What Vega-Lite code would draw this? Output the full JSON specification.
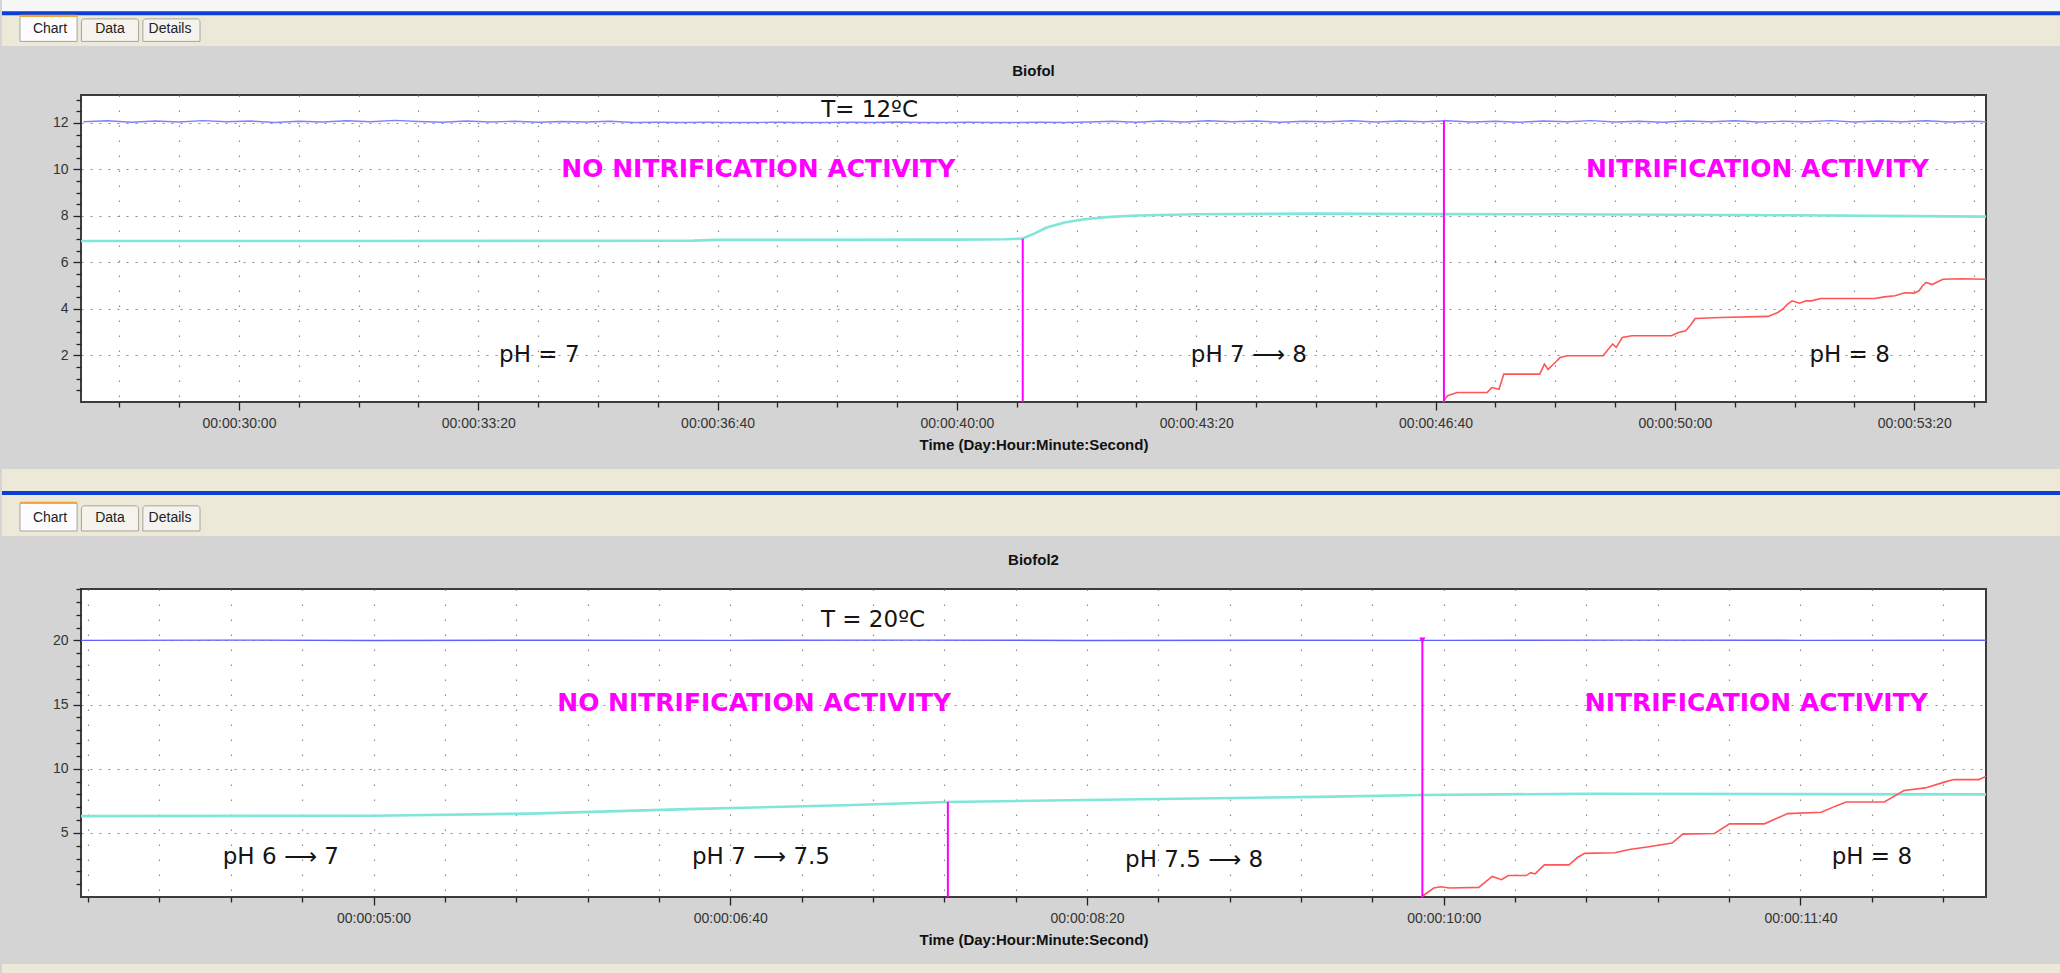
{
  "$schema": "https://vega.github.io/schema/vega-lite/v6.json",
  "background": "#d4d4d4",
  "padding": 0,
  "autosize": {"type": "pad"},
  "config": {
    "font": "Liberation Sans",
    "view": {"stroke": null},
    "axis": {"domain": false, "labelFont": "Liberation Sans", "labelFontSize": 14, "labelColor": "#333333", "tickColor": "#222222", "tickWidth": 1.3, "titleFont": "Liberation Sans", "titleFontSize": 15, "titleFontWeight": "bold", "titleColor": "#111111", "gridColor": "#8c8c8c", "gridWidth": 1.2},
    "title": {"font": "Liberation Sans", "fontSize": 15, "fontWeight": "bold", "color": "#111111", "offset": 14, "frame": "group"}
  },
  "datasets": {
    "tabs": [{"tab": "Chart"}, {"tab": "Data"}, {"tab": "Details"}],
    "temp1": [
      {"t": 1670, "v": 12.05}, {"t": 1690, "v": 12.09}, {"t": 1710, "v": 12.03}, {"t": 1730, "v": 12.08}, {"t": 1750, "v": 12.04}, {"t": 1770, "v": 12.10}, {"t": 1790, "v": 12.05}, {"t": 1810, "v": 12.08}, {"t": 1830, "v": 12.02}, {"t": 1850, "v": 12.07},
      {"t": 1870, "v": 12.04}, {"t": 1890, "v": 12.09}, {"t": 1910, "v": 12.05}, {"t": 1930, "v": 12.11}, {"t": 1950, "v": 12.06}, {"t": 1970, "v": 12.03}, {"t": 1990, "v": 12.08}, {"t": 2010, "v": 12.04}, {"t": 2030, "v": 12.07}, {"t": 2050, "v": 12.03},
      {"t": 2070, "v": 12.06}, {"t": 2090, "v": 12.04}, {"t": 2110, "v": 12.07}, {"t": 2130, "v": 12.02}, {"t": 2150, "v": 12.03}, {"t": 2170, "v": 12.02}, {"t": 2190, "v": 12.03}, {"t": 2210, "v": 12.02}, {"t": 2230, "v": 12.02}, {"t": 2250, "v": 12.03},
      {"t": 2270, "v": 12.02}, {"t": 2290, "v": 12.02}, {"t": 2310, "v": 12.03}, {"t": 2330, "v": 12.02}, {"t": 2350, "v": 12.04}, {"t": 2370, "v": 12.02}, {"t": 2390, "v": 12.02}, {"t": 2410, "v": 12.03}, {"t": 2430, "v": 12.02}, {"t": 2450, "v": 12.02},
      {"t": 2470, "v": 12.03}, {"t": 2490, "v": 12.02}, {"t": 2510, "v": 12.04}, {"t": 2530, "v": 12.07}, {"t": 2550, "v": 12.03}, {"t": 2570, "v": 12.08}, {"t": 2590, "v": 12.04}, {"t": 2610, "v": 12.09}, {"t": 2630, "v": 12.05}, {"t": 2650, "v": 12.08},
      {"t": 2670, "v": 12.03}, {"t": 2690, "v": 12.07}, {"t": 2710, "v": 12.05}, {"t": 2730, "v": 12.09}, {"t": 2750, "v": 12.04}, {"t": 2770, "v": 12.08}, {"t": 2790, "v": 12.05}, {"t": 2810, "v": 12.09}, {"t": 2830, "v": 12.04}, {"t": 2850, "v": 12.07},
      {"t": 2870, "v": 12.03}, {"t": 2890, "v": 12.08}, {"t": 2910, "v": 12.05}, {"t": 2930, "v": 12.10}, {"t": 2950, "v": 12.04}, {"t": 2970, "v": 12.07}, {"t": 2990, "v": 12.03}, {"t": 3010, "v": 12.08}, {"t": 3030, "v": 12.05}, {"t": 3050, "v": 12.09},
      {"t": 3070, "v": 12.04}, {"t": 3090, "v": 12.07}, {"t": 3110, "v": 12.05}, {"t": 3130, "v": 12.10}, {"t": 3150, "v": 12.04}, {"t": 3170, "v": 12.08}, {"t": 3190, "v": 12.05}, {"t": 3210, "v": 12.09}, {"t": 3230, "v": 12.04}, {"t": 3250, "v": 12.07}, {"t": 3260, "v": 12.05}
    ],
    "ph1": [
      {"t": 1668, "v": 6.92}, {"t": 1900, "v": 6.92}, {"t": 2180, "v": 6.94}, {"t": 2200, "v": 6.97}, {"t": 2400, "v": 6.98}, {"t": 2440, "v": 7.0}, {"t": 2455, "v": 7.03}, {"t": 2465, "v": 7.25}, {"t": 2475, "v": 7.5}, {"t": 2490, "v": 7.72},
      {"t": 2505, "v": 7.85}, {"t": 2525, "v": 7.95}, {"t": 2550, "v": 8.02}, {"t": 2600, "v": 8.07}, {"t": 2700, "v": 8.1}, {"t": 2800, "v": 8.08}, {"t": 2900, "v": 8.07}, {"t": 3000, "v": 8.05}, {"t": 3100, "v": 8.03}, {"t": 3200, "v": 7.99}, {"t": 3260, "v": 7.97}
    ],
    "nit1": [
      {"t": 2806, "v": 0}, {"t": 2810, "v": 0.27}, {"t": 2818, "v": 0.41}, {"t": 2843, "v": 0.41}, {"t": 2847, "v": 0.62}, {"t": 2853, "v": 0.55}, {"t": 2857, "v": 1.2}, {"t": 2887, "v": 1.2}, {"t": 2891, "v": 1.63}, {"t": 2894, "v": 1.4},
      {"t": 2897, "v": 1.55}, {"t": 2901, "v": 1.75}, {"t": 2904, "v": 1.91}, {"t": 2910, "v": 1.99}, {"t": 2940, "v": 1.99}, {"t": 2944, "v": 2.25}, {"t": 2948, "v": 2.49}, {"t": 2951, "v": 2.35}, {"t": 2956, "v": 2.77}, {"t": 2964, "v": 2.85},
      {"t": 2997, "v": 2.85}, {"t": 3003, "v": 2.99}, {"t": 3009, "v": 3.06}, {"t": 3013, "v": 3.3}, {"t": 3017, "v": 3.59}, {"t": 3038, "v": 3.63}, {"t": 3078, "v": 3.68}, {"t": 3086, "v": 3.85}, {"t": 3090, "v": 3.99}, {"t": 3094, "v": 4.2},
      {"t": 3098, "v": 4.35}, {"t": 3104, "v": 4.25}, {"t": 3110, "v": 4.35}, {"t": 3114, "v": 4.35}, {"t": 3122, "v": 4.45}, {"t": 3167, "v": 4.45}, {"t": 3175, "v": 4.52}, {"t": 3184, "v": 4.57}, {"t": 3192, "v": 4.7}, {"t": 3200, "v": 4.68},
      {"t": 3204, "v": 4.78}, {"t": 3207, "v": 5.0}, {"t": 3210, "v": 5.14}, {"t": 3215, "v": 5.05}, {"t": 3224, "v": 5.28}, {"t": 3240, "v": 5.3}, {"t": 3260, "v": 5.28}
    ],
    "marks1": [{"t": 2455, "v": 0, "v2": 7.02}, {"t": 2807, "v": 0, "v2": 12.1}],
    "labels1": [
      {"t": 2327, "v": 12.55, "text": "T= 12ºC", "kind": "note"},
      {"t": 2234, "v": 10.0, "text": "NO NITRIFICATION ACTIVITY", "kind": "activity"},
      {"t": 3069, "v": 10.0, "text": "NITRIFICATION ACTIVITY", "kind": "activity"},
      {"t": 2051, "v": 2.0, "text": "pH = 7", "kind": "note"},
      {"t": 2644, "v": 2.0, "text": "pH 7 ⟶ 8", "kind": "note"},
      {"t": 3146, "v": 2.0, "text": "pH = 8", "kind": "note"}
    ],
    "temp2": [
      {"t": 218, "v": 20.0}, {"t": 260, "v": 20.02}, {"t": 300, "v": 19.99}, {"t": 350, "v": 20.01}, {"t": 400, "v": 20.0}, {"t": 450, "v": 20.02}, {"t": 500, "v": 19.99}, {"t": 550, "v": 20.01}, {"t": 600, "v": 20.0}, {"t": 650, "v": 20.02}, {"t": 700, "v": 20.0}, {"t": 752, "v": 20.01}
    ],
    "ph2": [
      {"t": 218, "v": 6.3}, {"t": 300, "v": 6.33}, {"t": 344, "v": 6.5}, {"t": 388, "v": 6.85}, {"t": 432, "v": 7.15}, {"t": 461, "v": 7.4}, {"t": 510, "v": 7.6}, {"t": 565, "v": 7.8}, {"t": 594, "v": 7.95}, {"t": 640, "v": 8.05}, {"t": 700, "v": 8.02}, {"t": 752, "v": 8.0}
    ],
    "nit2": [
      {"t": 593.7, "v": 0}, {"t": 597.2, "v": 0.7}, {"t": 599.1, "v": 0.8}, {"t": 601.6, "v": 0.7}, {"t": 609.8, "v": 0.75}, {"t": 613.6, "v": 1.6}, {"t": 616.2, "v": 1.35}, {"t": 618.1, "v": 1.67}, {"t": 623.1, "v": 1.67}, {"t": 624.4, "v": 1.9},
      {"t": 625.6, "v": 1.8}, {"t": 628.2, "v": 2.5}, {"t": 635.1, "v": 2.5}, {"t": 637.6, "v": 3.1}, {"t": 639.5, "v": 3.4}, {"t": 648, "v": 3.45}, {"t": 652, "v": 3.7}, {"t": 657, "v": 3.9}, {"t": 664, "v": 4.2}, {"t": 667, "v": 4.9},
      {"t": 675.9, "v": 4.95}, {"t": 680.1, "v": 5.7}, {"t": 689.9, "v": 5.7}, {"t": 696.4, "v": 6.5}, {"t": 705.8, "v": 6.6}, {"t": 710, "v": 7.1}, {"t": 712.8, "v": 7.4}, {"t": 723.5, "v": 7.4}, {"t": 729, "v": 8.3}, {"t": 735, "v": 8.5},
      {"t": 740.3, "v": 8.95}, {"t": 743, "v": 9.15}, {"t": 750, "v": 9.15}, {"t": 752, "v": 9.4}
    ],
    "marks2": [{"t": 461, "v": 0, "v2": 7.4}, {"t": 594, "v": 0, "v2": 20}],
    "labels2": [
      {"t": 440, "v": 21.6, "text": "T = 20ºC", "kind": "note"},
      {"t": 406.7, "v": 15.1, "text": "NO NITRIFICATION ACTIVITY", "kind": "activity"},
      {"t": 687.6, "v": 15.1, "text": "NITRIFICATION ACTIVITY", "kind": "activity"},
      {"t": 274, "v": 3.1, "text": "pH 6 ⟶ 7", "kind": "note"},
      {"t": 408.6, "v": 3.1, "text": "pH 7 ⟶ 7.5", "kind": "note"},
      {"t": 530, "v": 2.85, "text": "pH 7.5 ⟶ 8", "kind": "note"},
      {"t": 720, "v": 3.1, "text": "pH = 8", "kind": "note"}
    ]
  },
  "columns": 1,
  "spacing": 16,
  "concat": [
    {
      "width": 1981, "height": 46,
      "view": {"stroke": null},
      "resolve": {"scale": {"x": "independent"}},
      "layer": [
        {"data": {"values": [{}]}, "mark": {"type": "rect", "color": "#ece9d8"},
         "encoding": {"x": {"datum": 0, "type": "quantitative", "scale": {"domain": [0, 1], "range": [-79, 1981]}, "axis": null}, "x2": {"datum": 1},
           "y": {"datum": 0, "type": "quantitative", "scale": {"domain": [0, 1]}, "axis": null}, "y2": {"datum": 1}}},
        {"data": {"values": [{}]}, "mark": {"type": "rect", "color": "#f6f6f6"},
         "encoding": {"x": {"datum": 0, "type": "quantitative", "scale": {"domain": [0, 1], "range": [-79, 1981]}, "axis": null}, "x2": {"datum": 1},
           "y": {"datum": 0.76, "type": "quantitative"}, "y2": {"datum": 1}}},
        {"data": {"values": [{}]}, "mark": {"type": "rule", "color": "#0b3fd6", "strokeWidth": 4},
         "encoding": {"x": {"datum": 0, "type": "quantitative", "scale": {"domain": [0, 1], "range": [-79, 1981]}, "axis": null}, "x2": {"datum": 1},
           "y": {"datum": 0.71, "type": "quantitative"}}},
        {"data": {"name": "tabs"}, "transform": [{"filter": "datum.tab !== 'Chart'"}], "mark": {"type": "bar", "color": "#f4f3ee", "stroke": "#a5a59a", "strokeWidth": 1, "cornerRadiusTopLeft": 3, "cornerRadiusTopRight": 3},
         "encoding": {"x": {"field": "tab", "type": "nominal", "scale": {"domain": ["Chart", "Data", "Details"], "range": [-61, 119], "paddingInner": 0.07, "paddingOuter": 0}, "axis": null}, "y": {"datum": 0.59, "type": "quantitative"}, "y2": {"datum": 0.1}}},
        {"data": {"name": "tabs"}, "transform": [{"filter": "datum.tab === 'Chart'"}], "mark": {"type": "bar", "color": "#fcfcfe", "stroke": "#a5a59a", "strokeWidth": 1},
         "encoding": {"x": {"field": "tab", "type": "nominal", "scale": {"domain": ["Chart", "Data", "Details"], "range": [-61, 119], "paddingInner": 0.07, "paddingOuter": 0}, "axis": null}, "y": {"datum": 0.65, "type": "quantitative"}, "y2": {"datum": 0.1}}},
        {"data": {"name": "tabs"}, "transform": [{"filter": "datum.tab === 'Chart'"}], "mark": {"type": "bar", "color": "#f2a53a"},
         "encoding": {"x": {"field": "tab", "type": "nominal", "scale": {"domain": ["Chart", "Data", "Details"], "range": [-61, 119], "paddingInner": 0.07, "paddingOuter": 0}, "axis": null}, "y": {"datum": 0.68, "type": "quantitative"}, "y2": {"datum": 0.63}}},
        {"data": {"name": "tabs"}, "mark": {"type": "text", "font": "Liberation Sans", "fontSize": 14, "color": "#222222"},
         "encoding": {"x": {"field": "tab", "type": "nominal", "scale": {"domain": ["Chart", "Data", "Details"], "range": [-61, 119], "paddingInner": 0.07, "paddingOuter": 0}, "axis": null}, "y": {"datum": 0.37, "type": "quantitative"}, "text": {"field": "tab"}}}
      ]
    },
    {
      "width": 1905, "height": 307,
      "view": {"fill": "#ffffff", "stroke": "#3c3c3c", "strokeWidth": 2},
      "title": "Biofol",
      "encoding": {
        "x": {"field": "t", "type": "quantitative", "scale": {"domain": [1668, 3260], "nice": false, "zero": false},
          "axis": {"values": [1700, 1750, 1800, 1850, 1900, 1950, 2000, 2050, 2100, 2150, 2200, 2250, 2300, 2350, 2400, 2450, 2500, 2550, 2600, 2650, 2700, 2750, 2800, 2850, 2900, 2950, 3000, 3050, 3100, 3150, 3200, 3250],
            "title": "Time (Day:Hour:Minute:Second)",
            "labelExpr": "datum.value % 200 === 0 ? '00:00:' + (floor(datum.value / 60) < 10 ? '0' : '') + floor(datum.value / 60) + ':' + (datum.value % 60 < 10 ? '0' : '') + (datum.value % 60) : ''",
            "labelFlush": false, "labelOverlap": false,
            "tickSize": {"condition": {"test": "datum.value % 200 === 0", "value": 8}, "value": 5},
            "grid": true, "gridDash": [1.5, 13.5], "labelPadding": 6, "titlePadding": 7}},
        "y": {"field": "v", "type": "quantitative", "scale": {"domain": [0, 13.2], "nice": false},
          "axis": {"values": [0.5, 1, 1.5, 2, 2.5, 3, 3.5, 4, 4.5, 5, 5.5, 6, 6.5, 7, 7.5, 8, 8.5, 9, 9.5, 10, 10.5, 11, 11.5, 12, 12.5, 13],
            "title": null, "format": ".0f",
            "labelExpr": "datum.value % 2 === 0 ? datum.label : ''",
            "labelOverlap": false, "labelFlush": false,
            "tickSize": {"condition": {"test": "datum.value % 2 === 0", "value": 8}, "value": 5},
            "grid": true, "gridDash": [2, 7],
            "gridOpacity": {"condition": {"test": "datum.value % 2 === 0", "value": 1}, "value": 0},
            "labelPadding": 5, "minExtent": 79}}
      },
      "layer": [
        {"data": {"name": "temp1"}, "mark": {"type": "line", "color": "#8080ff", "strokeWidth": 1.4}},
        {"data": {"name": "ph1"}, "mark": {"type": "line", "color": "#80e6da", "strokeWidth": 2.6}},
        {"data": {"name": "nit1"}, "mark": {"type": "line", "color": "#ff5555", "strokeWidth": 1.6}},
        {"data": {"name": "marks1"}, "mark": {"type": "rule", "color": "#ff00ff", "strokeWidth": 2}, "encoding": {"y2": {"field": "v2"}}},
        {"data": {"name": "labels1"}, "transform": [{"filter": "datum.kind === 'note'"}], "mark": {"type": "text", "font": "DejaVu Sans", "fontSize": 23, "color": "#151515"}, "encoding": {"text": {"field": "text"}}},
        {"data": {"name": "labels1"}, "transform": [{"filter": "datum.kind === 'activity'"}], "mark": {"type": "text", "font": "DejaVu Sans", "fontSize": 25, "fontWeight": "bold", "color": "#ff00ff"}, "encoding": {"text": {"field": "text"}}}
      ]
    },
    {
      "width": 1981, "height": 67,
      "view": {"stroke": null},
      "resolve": {"scale": {"x": "independent"}},
      "layer": [
        {"data": {"values": [{}]}, "mark": {"type": "rect", "color": "#ece9d8"},
         "encoding": {"x": {"datum": 0, "type": "quantitative", "scale": {"domain": [0, 1], "range": [-79, 1981]}, "axis": null}, "x2": {"datum": 1},
           "y": {"datum": 0, "type": "quantitative", "scale": {"domain": [0, 1]}, "axis": null}, "y2": {"datum": 1}}},
        {"data": {"values": [{}]}, "mark": {"type": "rule", "color": "#0b3fd6", "strokeWidth": 4},
         "encoding": {"x": {"datum": 0, "type": "quantitative", "scale": {"domain": [0, 1], "range": [-79, 1981]}, "axis": null}, "x2": {"datum": 1},
           "y": {"datum": 0.64, "type": "quantitative"}}},
        {"data": {"name": "tabs"}, "transform": [{"filter": "datum.tab !== 'Chart'"}], "mark": {"type": "bar", "color": "#f4f3ee", "stroke": "#a5a59a", "strokeWidth": 1, "cornerRadiusTopLeft": 3, "cornerRadiusTopRight": 3},
         "encoding": {"x": {"field": "tab", "type": "nominal", "scale": {"domain": ["Chart", "Data", "Details"], "range": [-61, 119], "paddingInner": 0.07, "paddingOuter": 0}, "axis": null}, "y": {"datum": 0.45, "type": "quantitative"}, "y2": {"datum": 0.075}}},
        {"data": {"name": "tabs"}, "transform": [{"filter": "datum.tab === 'Chart'"}], "mark": {"type": "bar", "color": "#fcfcfe", "stroke": "#a5a59a", "strokeWidth": 1},
         "encoding": {"x": {"field": "tab", "type": "nominal", "scale": {"domain": ["Chart", "Data", "Details"], "range": [-61, 119], "paddingInner": 0.07, "paddingOuter": 0}, "axis": null}, "y": {"datum": 0.49, "type": "quantitative"}, "y2": {"datum": 0.075}}},
        {"data": {"name": "tabs"}, "transform": [{"filter": "datum.tab === 'Chart'"}], "mark": {"type": "bar", "color": "#f2a53a"},
         "encoding": {"x": {"field": "tab", "type": "nominal", "scale": {"domain": ["Chart", "Data", "Details"], "range": [-61, 119], "paddingInner": 0.07, "paddingOuter": 0}, "axis": null}, "y": {"datum": 0.51, "type": "quantitative"}, "y2": {"datum": 0.48}}},
        {"data": {"name": "tabs"}, "mark": {"type": "text", "font": "Liberation Sans", "fontSize": 14, "color": "#222222"},
         "encoding": {"x": {"field": "tab", "type": "nominal", "scale": {"domain": ["Chart", "Data", "Details"], "range": [-61, 119], "paddingInner": 0.07, "paddingOuter": 0}, "axis": null}, "y": {"datum": 0.27, "type": "quantitative"}, "text": {"field": "tab"}}}
      ]
    },
    {
      "width": 1905, "height": 308,
      "view": {"fill": "#ffffff", "stroke": "#3c3c3c", "strokeWidth": 2},
      "title": "Biofol2",
      "encoding": {
        "x": {"field": "t", "type": "quantitative", "scale": {"domain": [218, 752], "nice": false, "zero": false},
          "axis": {"values": [220, 240, 260, 280, 300, 320, 340, 360, 380, 400, 420, 440, 460, 480, 500, 520, 540, 560, 580, 600, 620, 640, 660, 680, 700, 720, 740],
            "title": "Time (Day:Hour:Minute:Second)",
            "labelExpr": "datum.value % 100 === 0 ? '00:00:' + (floor(datum.value / 60) < 10 ? '0' : '') + floor(datum.value / 60) + ':' + (datum.value % 60 < 10 ? '0' : '') + (datum.value % 60) : ''",
            "labelFlush": false, "labelOverlap": false,
            "tickSize": {"condition": {"test": "datum.value % 100 === 0", "value": 8}, "value": 5},
            "grid": true, "gridDash": [1.5, 13.5], "labelPadding": 6, "titlePadding": 7}},
        "y": {"field": "v", "type": "quantitative", "scale": {"domain": [0, 24], "nice": false},
          "axis": {"values": [1, 2, 3, 4, 5, 6, 7, 8, 9, 10, 11, 12, 13, 14, 15, 16, 17, 18, 19, 20, 21, 22, 23, 24],
            "title": null, "format": ".0f",
            "labelExpr": "datum.value % 5 === 0 ? datum.label : ''",
            "labelOverlap": false, "labelFlush": false,
            "tickSize": {"condition": {"test": "datum.value % 5 === 0", "value": 8}, "value": 5},
            "grid": true, "gridDash": [2, 7],
            "gridOpacity": {"condition": {"test": "datum.value % 5 === 0", "value": 1}, "value": 0},
            "labelPadding": 5, "minExtent": 79}}
      },
      "layer": [
        {"data": {"name": "temp2"}, "mark": {"type": "line", "color": "#6060ff", "strokeWidth": 1.4}},
        {"data": {"name": "ph2"}, "mark": {"type": "line", "color": "#80e6da", "strokeWidth": 2.6}},
        {"data": {"name": "nit2"}, "mark": {"type": "line", "color": "#ff5555", "strokeWidth": 1.6}},
        {"data": {"name": "marks2"}, "mark": {"type": "rule", "color": "#ff00ff", "strokeWidth": 2}, "encoding": {"y2": {"field": "v2"}}},
        {"data": {"name": "marks2"}, "transform": [{"filter": "datum.v2 >= 20"}], "mark": {"type": "point", "shape": "triangle-down", "filled": true, "color": "#ff00ff", "size": 40, "opacity": 1}, "encoding": {"y": {"field": "v2", "type": "quantitative"}}},
        {"data": {"name": "labels2"}, "transform": [{"filter": "datum.kind === 'note'"}], "mark": {"type": "text", "font": "DejaVu Sans", "fontSize": 23, "color": "#151515"}, "encoding": {"text": {"field": "text"}}},
        {"data": {"name": "labels2"}, "transform": [{"filter": "datum.kind === 'activity'"}], "mark": {"type": "text", "font": "DejaVu Sans", "fontSize": 25, "fontWeight": "bold", "color": "#ff00ff"}, "encoding": {"text": {"field": "text"}}}
      ]
    },
    {
      "width": 1981, "height": 16,
      "view": {"stroke": null},
      "layer": [
        {"data": {"values": [{}]}, "mark": {"type": "rect", "color": "#ece9d8"},
         "encoding": {"x": {"datum": 0, "type": "quantitative", "scale": {"domain": [0, 1], "range": [-79, 1981]}, "axis": null}, "x2": {"datum": 1},
           "y": {"datum": 0, "type": "quantitative", "scale": {"domain": [0, 1]}, "axis": null}, "y2": {"datum": 1}}},
        {"data": {"values": [{}]}, "mark": {"type": "rule", "color": "#7b8ce0", "strokeWidth": 4},
         "encoding": {"x": {"datum": 0}, "x2": {"datum": 1}, "y": {"datum": 0.15}}}
      ]
    }
  ]
}
